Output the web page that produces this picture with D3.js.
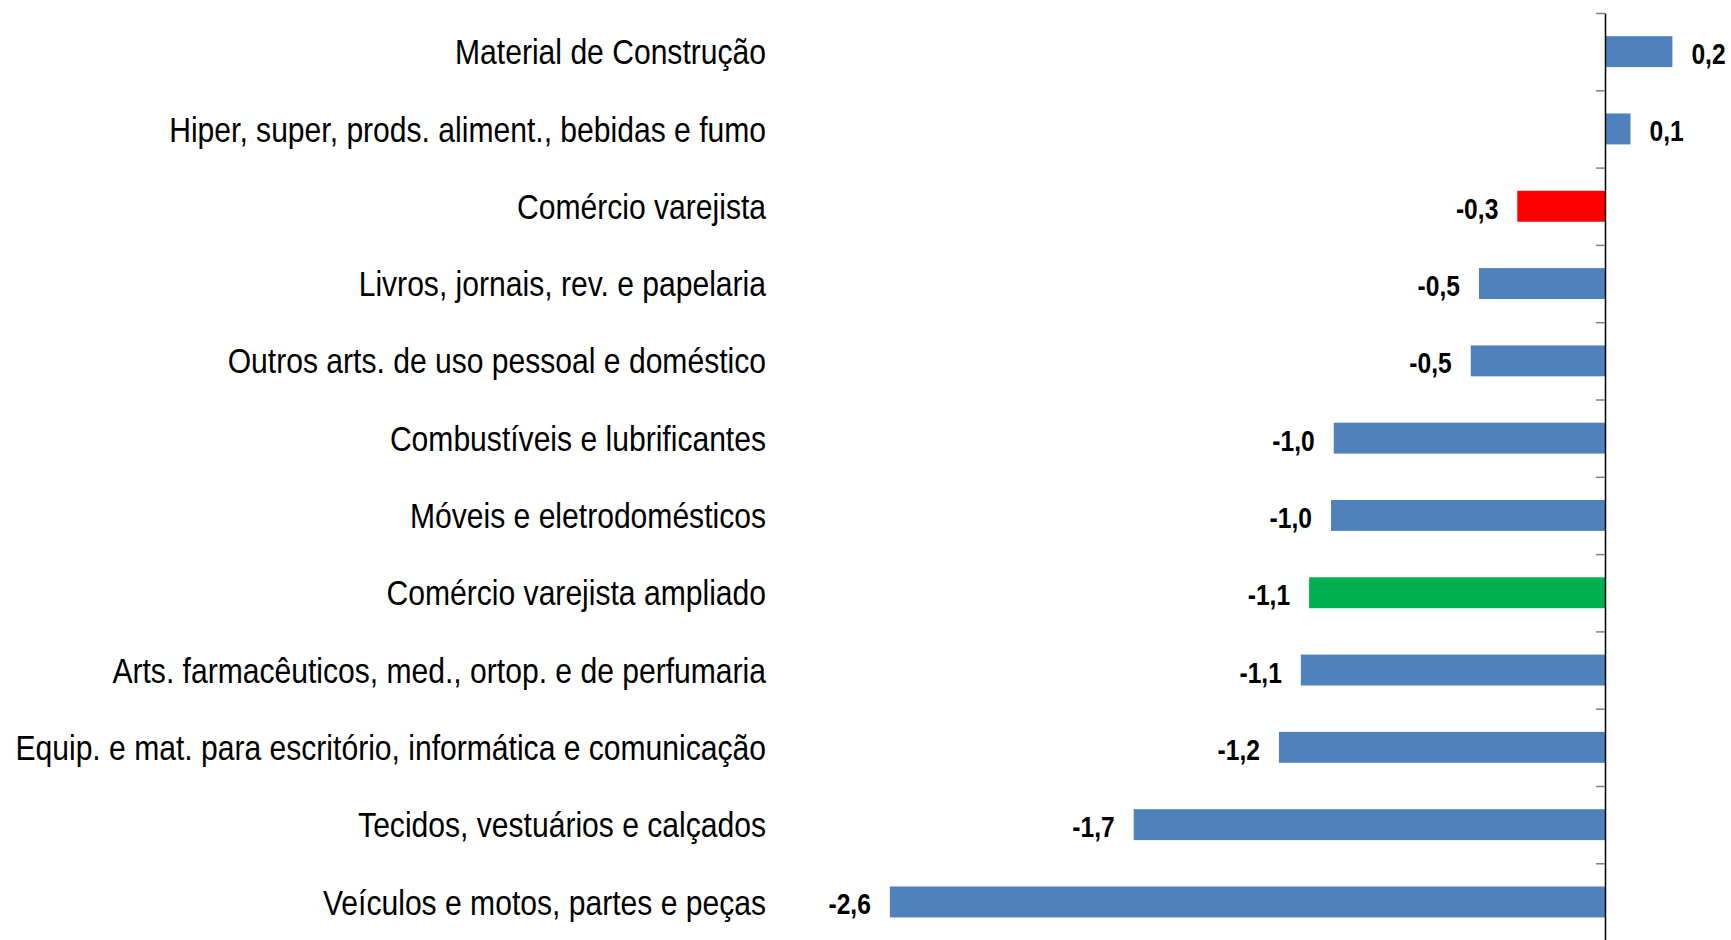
<!DOCTYPE html>
<html>
<head>
<meta charset="utf-8">
<script src="https://cdn.jsdelivr.net/npm/d3@7"></script>
<style>
  body { margin: 0; background: #fff; }
  svg { display: block; }
  .cat { font-family: "Liberation Sans", Arial, sans-serif; font-size: 36px; fill: #000; }
  .val { font-family: "Liberation Sans", Arial, sans-serif; font-size: 30px; font-weight: bold; fill: #000; }
</style>
</head>
<body>
<div id="container"></div>
<script>
// Data
const categories = [
  "Material de Construção",
  "Hiper, super, prods. aliment., bebidas e fumo",
  "Comércio varejista",
  "Livros, jornais, rev. e papelaria",
  "Outros arts. de uso pessoal e doméstico",
  "Combustíveis e lubrificantes",
  "Móveis e eletrodomésticos",
  "Comércio varejista ampliado",
  "Arts. farmacêuticos, med., ortop. e de perfumaria",
  "Equip. e mat. para escritório, informática e comunicação",
  "Tecidos, vestuários e calçados",
  "Veículos e motos, partes e peças"
];
const values = [0.246, 0.093, -0.32, -0.46, -0.49, -0.99, -1.0, -1.08, -1.11, -1.19, -1.72, -2.61];
const barColors = ["#4F81BD", "#4F81BD", "#FF0000", "#4F81BD", "#4F81BD", "#4F81BD",
  "#4F81BD", "#00B050", "#4F81BD", "#4F81BD", "#4F81BD", "#4F81BD"];

const width = 1731;
const height = 940;
const labelRight = 766;
const catNarrow = 0.836; // squeeze Liberation Sans to look like Arial Narrow
const valNarrow = 0.82;

const svg = d3.select("#container")
  .append("svg")
  .attr("width", width)
  .attr("height", height);

const xScale = d3.scaleLinear()
  .domain([-3, 0.5])
  .range([783, 1742]);

const yScale = d3.scaleBand()
  .domain(categories)
  .range([13, 940.6])
  .paddingInner(0.6)
  .paddingOuter(0.3);

// tick positions at the band edges
const edgeScale = d3.scaleLinear()
  .domain([0, categories.length])
  .range([13, 940.6]);

// bars
svg.append("g")
  .selectAll("rect")
  .data(values)
  .enter()
  .append("rect")
  .attr("x", function (d) { return xScale(Math.min(0, d)); })
  .attr("y", function (d, i) { return yScale(categories[i]); })
  .attr("width", function (d) { return Math.abs(xScale(d) - xScale(0)); })
  .attr("height", yScale.bandwidth())
  .attr("fill", function (d, i) { return barColors[i]; });

// vertical axis at zero
const axis = d3.axisLeft(edgeScale)
  .tickValues(d3.range(categories.length + 1))
  .tickFormat("")
  .tickSize(9)
  .tickSizeOuter(0);

const axisG = svg.append("g")
  .attr("transform", "translate(" + xScale(0) + ",0)")
  .call(axis);
axisG.select(".domain").attr("stroke", "#000").attr("stroke-width", 1.5);
axisG.selectAll(".tick line").attr("stroke", "#808080").attr("stroke-width", 1.5);

// category labels
svg.append("g")
  .selectAll("text")
  .data(categories)
  .enter()
  .append("text")
  .attr("class", "cat")
  .attr("transform", function (d) {
    return "translate(" + labelRight + "," + (yScale(d) + yScale.bandwidth() / 2) + ") scale(" + catNarrow + ",1)";
  })
  .attr("dy", "0.35em")
  .attr("text-anchor", "end")
  .text(function (d) { return d; });

// value labels
const fmt = function (v) { return v.toFixed(1).replace(".", ","); };

svg.append("g")
  .selectAll("text")
  .data(values)
  .enter()
  .append("text")
  .attr("class", "val")
  .attr("transform", function (d, i) {
    const x = d < 0 ? xScale(d) - 19 : xScale(d) + 19;
    const y = yScale(categories[i]) + yScale.bandwidth() / 2 + 2;
    return "translate(" + x + "," + y + ") scale(" + valNarrow + ",1)";
  })
  .attr("dy", "0.35em")
  .attr("text-anchor", function (d) { return d < 0 ? "end" : "start"; })
  .text(fmt);
</script>
</body>
</html>
